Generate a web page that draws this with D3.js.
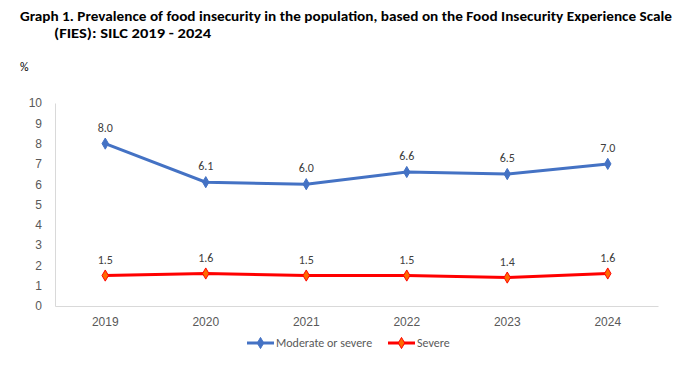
<!DOCTYPE html>
<html>
<head>
<meta charset="utf-8">
<script src="https://cdn.jsdelivr.net/npm/d3@7"></script>
<style>
  body { margin: 0; background: #fff; }
  svg { font-family: Carlito, "Liberation Sans Narrow", Lato, sans-serif; }
</style>
</head>
<body>
<div id="chart"></div>
<script>
const years = ["2019", "2020", "2021", "2022", "2023", "2024"];
const moderateOrSevere = [8.0, 6.1, 6.0, 6.6, 6.5, 7.0];
const severe = [1.5, 1.6, 1.5, 1.5, 1.4, 1.6];
const yTicks = [0, 1, 2, 3, 4, 5, 6, 7, 8, 9, 10];

const series = [
  { name: "Moderate or severe", values: moderateOrSevere, color: "#4472C4", marker: "#4472C4" },
  { name: "Severe", values: severe, color: "#FF0000", marker: "#FF6A00" }
];

const svg = d3.select("#chart").append("svg")
  .attr("width", 688)
  .attr("height", 371);

// title
svg.append("text")
  .attr("x", 20).attr("y", 21)
  .attr("font-size", 14.5).attr("font-weight", "bold").attr("fill", "#000")
  .attr("textLength", 652).attr("lengthAdjust", "spacingAndGlyphs")
  .text("Graph 1. Prevalence of food insecurity in the population, based on the Food Insecurity Experience Scale");
svg.append("text")
  .attr("x", 54).attr("y", 38)
  .attr("font-size", 14.5).attr("font-weight", "bold").attr("fill", "#000")
  .attr("textLength", 157).attr("lengthAdjust", "spacingAndGlyphs")
  .text("(FIES): SILC 2019 - 2024");
svg.append("text")
  .attr("x", 20).attr("y", 71)
  .attr("font-size", 12).attr("fill", "#000")
  .text("%");

const margin = { top: 103, left: 55, right: 30, bottom: 65 };
const width = 688 - margin.left - margin.right;
const height = 371 - margin.top - margin.bottom;
const g = svg.append("g").attr("transform", `translate(${margin.left},${margin.top})`);

const x = d3.scaleBand().domain(years).range([0, width]);
const y = d3.scaleLinear().domain([0, 10]).range([height, 0]);

// axes
const xAxis = g.append("g")
  .attr("transform", `translate(0,${height})`)
  .call(d3.axisBottom(x).tickSize(0).tickPadding(11));
xAxis.select(".domain").attr("stroke", "#d9d9d9");
xAxis.selectAll("text").attr("fill", "#595959").attr("font-size", 12).attr("font-family", null);

const yAxis = g.append("g")
  .call(d3.axisLeft(y).tickValues(yTicks).tickSize(0).tickPadding(13));
yAxis.select(".domain").attr("stroke", "#d9d9d9");
yAxis.selectAll("text").attr("fill", "#595959").attr("font-size", 12).attr("font-family", null);

const cx = d => x(d) + x.bandwidth() / 2;
const line = d3.line().x((d, i) => cx(years[i])).y(d => y(d));
const diamond = d3.symbol().type(d3.symbolDiamond).size(36);

series.forEach(s => {
  g.append("path")
    .datum(s.values)
    .attr("fill", "none")
    .attr("stroke", s.color)
    .attr("stroke-width", 3)
    .attr("d", line);

  g.selectAll(null)
    .data(s.values)
    .enter().append("path")
    .attr("d", diamond)
    .attr("transform", (d, i) => `translate(${cx(years[i])},${y(d)})`)
    .attr("fill", s.marker)
    .attr("stroke", s.color)
    .attr("stroke-width", 1);

  g.selectAll(null)
    .data(s.values)
    .enter().append("text")
    .attr("x", (d, i) => cx(years[i]))
    .attr("y", d => y(d) - 12)
    .attr("text-anchor", "middle")
    .attr("font-size", 12)
    .attr("fill", "#404040")
    .text(d => d.toFixed(1));
});

// legend
const legend = svg.append("g").attr("transform", "translate(0,343)");
const legendPos = [247, 388];
series.forEach((s, i) => {
  const lg = legend.append("g").attr("transform", `translate(${legendPos[i]},0)`);
  lg.append("line").attr("x1", 0).attr("x2", 27).attr("y1", 0).attr("y2", 0)
    .attr("stroke", s.color).attr("stroke-width", 3);
  lg.append("path").attr("d", diamond).attr("transform", "translate(13.5,0)")
    .attr("fill", s.marker).attr("stroke", s.color);
  lg.append("text").attr("x", 29).attr("y", 4)
    .attr("font-size", 12).attr("fill", "#595959")
    .text(s.name);
});
</script>
</body>
</html>
